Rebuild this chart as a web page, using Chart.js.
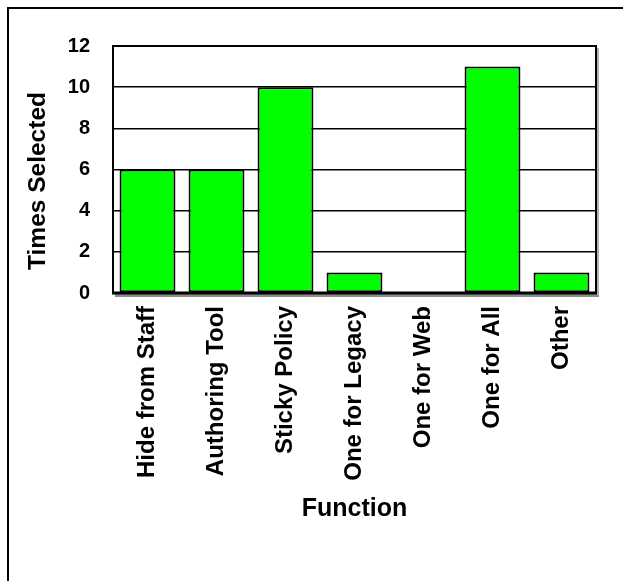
<!DOCTYPE html>
<html>
<head>
<meta charset="utf-8">
<script src="https://cdn.jsdelivr.net/npm/chart.js@4/dist/chart.umd.min.js"></script>
<style>
  html, body { margin: 0; padding: 0; background: #fff; overflow: hidden; }
  #wrap { position: relative; width: 623px; height: 581px; overflow: hidden; }
  #frame { position: absolute; left: 7px; top: 7px; width: 700px; height: 700px; border: 2px solid #000; box-sizing: border-box; }
  #c { position: absolute; left: 0; top: 0; }
</style>
</head>
<body>
<div id="wrap">
  <div id="frame"></div>
  <canvas id="c" width="623" height="581"></canvas>
</div>
<script>
// Survey results: how often each function was selected
const categories = ["Hide from Staff", "Authoring Tool", "Sticky Policy", "One for Legacy", "One for Web", "One for All", "Other"];
const timesSelected = [6, 6, 10, 1, 0, 11, 1];
const yTicks = [0, 2, 4, 6, 8, 10, 12];

const FONT = "'Liberation Sans', Arial, sans-serif";

// Plot frame with a soft grey drop shadow on the right and bottom edges,
// plus the rotated y-axis title.
const framePlugin = {
  id: 'plotFrame',
  afterDatasetsDraw(chart) {
    const { ctx, chartArea: a } = chart;
    ctx.save();
    ctx.fillStyle = '#8c8c8c';
    ctx.fillRect(a.left + 2, a.bottom + 1, a.right - a.left + 1, 3);
    ctx.fillStyle = '#b0b0b0';
    ctx.fillRect(a.right + 1, a.top + 2, 2, a.bottom - a.top);
    ctx.strokeStyle = '#000';
    ctx.lineWidth = 2;
    ctx.strokeRect(a.left, a.top, a.right - a.left, a.bottom - a.top);
    ctx.lineWidth = 3;
    ctx.beginPath();
    ctx.moveTo(a.left - 1, a.bottom);
    ctx.lineTo(a.right + 1, a.bottom);
    ctx.stroke();
    ctx.restore();
  },
  afterDraw(chart) {
    const { ctx } = chart;
    ctx.save();
    ctx.translate(38, 181);
    ctx.rotate(-Math.PI / 2);
    ctx.fillStyle = '#000';
    ctx.font = "bold 24.5px " + FONT;
    ctx.textAlign = 'center';
    ctx.textBaseline = 'middle';
    ctx.fillText('Times Selected', 0, 0);
    ctx.restore();
  }
};

new Chart(document.getElementById('c'), {
  type: 'bar',
  data: {
    labels: categories,
    datasets: [{
      data: timesSelected,
      backgroundColor: '#00ff00',
      borderColor: '#000',
      borderWidth: 2,
      borderSkipped: false,
      categoryPercentage: 1,
      barPercentage: 0.81
    }]
  },
  options: {
    responsive: false,
    animation: false,
    devicePixelRatio: 1,
    layout: { padding: { left: 0, top: 46, right: 27, bottom: 0 } },
    plugins: { legend: { display: false }, tooltip: { enabled: false } },
    scales: {
      x: {
        grid: { display: false, drawTicks: false },
        border: { display: false },
        ticks: {
          color: '#000',
          font: { family: FONT, size: 24, weight: 'bold' },
          minRotation: 90,
          maxRotation: 90,
          padding: 13,
          autoSkip: false
        },
        title: {
          display: true,
          text: 'Function',
          color: '#000',
          font: { family: FONT, size: 25, weight: 'bold' },
          padding: { top: 0, bottom: 57 }
        },
        afterFit(scale) { scale.height = 288; }
      },
      y: {
        min: 0,
        max: 12,
        afterBuildTicks(scale) { scale.ticks = yTicks.map(v => ({ value: v })); },
        grid: { color: '#000', lineWidth: 1.5, drawTicks: false },
        border: { display: false },
        ticks: {
          color: '#000',
          font: { family: FONT, size: 20, weight: 'bold' },
          padding: 23
        },
        afterFit(scale) { scale.width = 113; }
      }
    }
  },
  plugins: [framePlugin]
});
</script>
</body>
</html>
